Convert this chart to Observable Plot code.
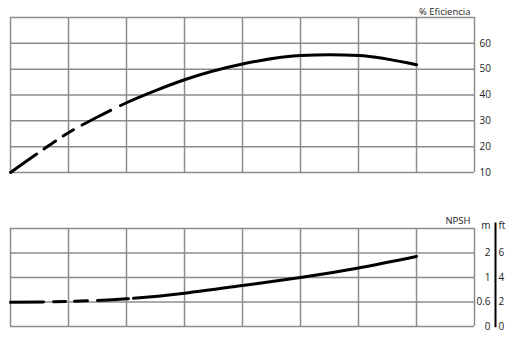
<!DOCTYPE html>
<html>
<head>
<meta charset="utf-8">
<script src="https://cdn.jsdelivr.net/npm/d3@7"></script>
<script src="https://cdn.jsdelivr.net/npm/@observablehq/plot@0.6"></script>
<style>
  html, body { margin: 0; padding: 0; background: #fff; }
  #wrap { width: 516px; height: 351px; position: relative; overflow: hidden; }
  #wrap svg { display: block; }
</style>
</head>
<body>
<div id="wrap"></div>
<script>
// Flow positions (grid-column units)
const gridX = [0, 1, 2, 3, 4, 5, 6, 7, 8];

// Efficiency curve (%)
const effFlow  = [0, 0.5, 1, 1.5, 2, 2.5, 3, 4, 5, 5.5, 6, 7];
const effVal   = [10, 17.9, 25.4, 31.5, 37.0, 41.7, 45.9, 52.0, 55.3, 55.6, 55.3, 51.7];
const effGrid  = [10, 20, 30, 40, 50, 60, 70];
const effTicks = [10, 20, 30, 40, 50, 60];

// NPSH curve (ft)
const npshFlow = [0, 1, 2, 3, 4, 5, 6, 7];
const npshVal  = [1.97, 2.05, 2.26, 2.72, 3.35, 4.0, 4.78, 5.72];
const npshGrid = [0, 2, 4, 6, 8];
const ftTicks  = [0, 2, 4, 6];
const mLabels  = ["0", "0.6", "1", "2"];

const font = "'Open Sans', 'Noto Sans', sans-serif";
const gridColor = "#8c8c8c";
const txt = "#222";

const toPts = (xs, ys) => xs.map((x, i) => ({x, y: ys[i]}));

const effChart = Plot.plot({
  width: 516, height: 195,
  marginLeft: 10, marginRight: 42, marginTop: 17, marginBottom: 23,
  style: {fontFamily: font, fontSize: "10px", background: "transparent"},
  x: {domain: [0, 8], axis: null},
  y: {domain: [10, 70], axis: null},
  marks: [
    Plot.ruleX(gridX, {stroke: gridColor, strokeWidth: 1.5}),
    Plot.ruleY(effGrid, {stroke: gridColor, strokeWidth: 1.5}),
    Plot.line(toPts(effFlow, effVal), {x: "x", y: "y", curve: "monotone-x", stroke: "#000", strokeWidth: 3,
      strokeDasharray: "32,9,14,9,12,10,32,11,3000"}),
    Plot.text(effTicks, {x: 8, y: d => d, text: d => String(d), dx: 5, textAnchor: "start", fill: txt}),
    Plot.text(["% Eficiencia"], {x: 8, y: 72.3, dx: -4, textAnchor: "end", fill: txt, fontSize: 9.5})
  ]
});

const npshChart = Plot.plot({
  width: 516, height: 156,
  marginLeft: 10, marginRight: 42, marginTop: 33, marginBottom: 25,
  style: {fontFamily: font, fontSize: "10px", background: "transparent"},
  x: {domain: [0, 8], axis: null},
  y: {domain: [0, 8], axis: null},
  marks: [
    Plot.ruleX(gridX, {stroke: gridColor, strokeWidth: 1.5}),
    Plot.ruleY(npshGrid, {stroke: gridColor, strokeWidth: 1.5}),
    Plot.line(toPts(npshFlow, npshVal), {x: "x", y: "y", curve: "natural", stroke: "#000", strokeWidth: 3,
      strokeDasharray: "33,10,12,9,13,10,31,5,3000"}),
    Plot.ruleX([8], {dx: 21, y1: -0.1, y2: 8.45, stroke: "#000", strokeWidth: 2}),
    Plot.text(ftTicks, {x: 8, y: d => d, text: (d, i) => mLabels[i], dx: 16, textAnchor: "end", fill: txt}),
    Plot.text(ftTicks, {x: 8, y: d => d, text: d => String(d), dx: 24, textAnchor: "start", fill: txt}),
    Plot.text(["m"], {x: 8, y: 8.2, dx: 16, textAnchor: "end", fill: txt}),
    Plot.text(["ft"], {x: 8, y: 8.2, dx: 24, textAnchor: "start", fill: txt}),
    Plot.text(["NPSH"], {x: 8, y: 8.6, dx: -4, textAnchor: "end", fill: txt, fontSize: 9.5})
  ]
});

const wrap = document.getElementById("wrap");
wrap.appendChild(effChart);
wrap.appendChild(npshChart);
</script>
</body>
</html>
